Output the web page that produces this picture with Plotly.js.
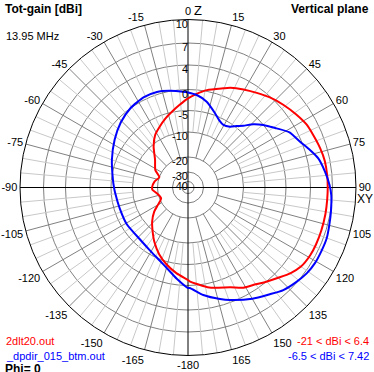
<!DOCTYPE html>
<html>
<head>
<meta charset="utf-8">
<script src="https://cdn.plot.ly/plotly-3.0.1.min.js"></script>
<style>html,body{margin:0;padding:0;background:#fff;}#chart{width:374px;height:372px;}</style>
</head>
<body>
<div id="chart"></div>
<script>
// ---- data (zenith angle in degrees, gain in dBi) ----
const redName = "2dlt20.out";
const blueName = "_dpdir_015_btm.out";
const redRange = "-21 < dBi < 6.4";
const blueRange = "-6.5 < dBi < 7.42";

const redTheta = [-180,-172.5,-164.5,-156.6,-148,-142.4,-133.6,-125.5,-120,-112,-101,-94,-90,-80,-70,-62,-50,-40,-32,-25,-18,-12,-6,0,5,11,19.6,23,29.5,36,42,49,56,62,67,73.5,79,85,90,95,101,108,114,119,125,130,135,141,145,151,157,168,179];
const redDb    = [-1.3,-2.7,-4.3,-6.0,-8.1,-9.5,-12.4,-15.6,-18.3,-21,-19.6,-18.0,-17.8,-18.6,-20.0,-17.4,-15.0,-10.8,-8.5,-7.3,-6.0,-4.9,-3.6,-2.1,-1.0,0.2,1.2,1.7,2.4,3.1,3.85,4.5,5.1,5.6,5.8,6.1,6.3,6.35,6.35,6.35,6.38,6.4,6.4,6.35,6.1,5.5,4.7,3.9,3.3,2.7,1.7,0.7,-1.0];

const blueTheta = [-180,-173,-166,-159,-150,-137.6,-121,-107,-94,-90,-84,-70,-57,-46,-36,-26,-18,-11,-3,0,5.4,12.3,20,25,29.5,34.6,38.4,41.8,45.9,50.3,53.4,56.3,61.5,67.8,72.9,77.4,83.4,89,93,99.6,104.9,110.1,115.6,120.8,125.9,131,137.1,142.5,150,159.5,164,171.9,179];
const blueDb    = [0.41,-1.43,-3.33,-4.64,-5.7,-6.45,-6.3,-6.3,-5.9,-5.7,-5.35,-4.05,-2.5,-1.07,0,0.41,0.41,0.08,-0.48,-0.71,-1.21,-2.43,-4.52,-5.7,-6.2,-5.72,-4.67,-3.6,-1.69,-0.02,0.67,1.4,2.86,3.76,4.7,5.5,6.1,6.6,6.86,7.06,7.22,7.41,7.42,7.42,7.26,6.9,6.39,5.64,4.82,3.61,2.94,1.73,0.41];

// gain rings (dBi) and their labels
const ringDb = [10, 7, 4, 0, -5, -10, -20, -30, -40];
const ringLabels = ["10", "7", "4", "0", "-5", "-10", "-20", "-30", "-40"];
// angular tick labels
const angleTicks = [0,15,30,45,60,75,90,105,120,135,150,165,180,195,210,225,240,255,270,285,300,315,330,345];
const angleLabels = ["0","15","30","45","60","75","90","105","120","135","150","165","-180","-165","-150","-135","-120","-105","-90","-75","-60","-45","-30","-15"];

// ---- log-type radial scale (EZNEC style): dBi -> fraction of outer radius ----
const scaleR = [1, 0.8601, 0.7292, 0.5833, 0.4583, 0.3304, 0.1815, 0.0923, 0.0357];
function dbToR(db) {
  if (db >= ringDb[0]) return 1;
  for (let i = 0; i < ringDb.length - 1; i++) {
    const a = ringDb[i], b = ringDb[i + 1];
    if (db <= a && db >= b) {
      return scaleR[i] + (scaleR[i + 1] - scaleR[i]) * (a - db) / (a - b);
    }
  }
  return Math.max(0, scaleR[scaleR.length - 1] * (1 - (ringDb[ringDb.length - 1] - db) / 10));
}
const th = t => (t + 360) % 360;

// ---- grid spokes ----
function spokes(step, skip, rIn) {
  const r = [], t = [];
  for (let a = 0; a < 360; a += step) {
    if (skip(a)) continue;
    r.push(rIn, 1, null); t.push(a, a, null);
  }
  return {r, t};
}
const light = spokes(5, a => a % 15 === 0, dbToR(-10));
const dark = spokes(15, a => a % 90 === 0, dbToR(-20));

const F = "Liberation Sans, Arial, sans-serif";

const traces = [
  {type: "scatterpolar", mode: "lines", r: light.r, theta: light.t, connectgaps: false,
   line: {color: "#c8c8c8", width: 1}, hoverinfo: "skip", showlegend: false},
  {type: "scatterpolar", mode: "lines", r: dark.r, theta: dark.t, connectgaps: false,
   line: {color: "#808080", width: 1}, hoverinfo: "skip", showlegend: false},
  {type: "scatterpolar", mode: "lines", r: [1, 0, 1, null, 1, 0, 1], theta: [0, 0, 180, null, 90, 90, 270], connectgaps: false,
   line: {color: "#000000", width: 1}, hoverinfo: "skip", showlegend: false},
  {type: "scatterpolar", mode: "lines", name: redName,
   r: redDb.map(dbToR).concat([dbToR(redDb[0])]), theta: redTheta.map(th).concat([th(redTheta[0])]),
   line: {color: "#ff0000", width: 2, shape: "spline", smoothing: 0.6}, showlegend: false},
  {type: "scatterpolar", mode: "lines", name: blueName,
   r: blueDb.map(dbToR).concat([dbToR(blueDb[0])]), theta: blueTheta.map(th).concat([th(blueTheta[0])]),
   line: {color: "#0000ff", width: 2, shape: "spline", smoothing: 0.6}, showlegend: false},
  // ring labels along the zenith axis
  {type: "scatterpolar", mode: "text", r: ringDb.map(dbToR), theta: ringDb.map(() => 0),
   text: ringLabels, textposition: "bottom left", textfont: {family: F, size: 11, color: "#000000"},
   hoverinfo: "skip", showlegend: false, cliponaxis: false}
];

const W = 374, H = 372;
const cx = 188, cy = 187.5, R = 168;

const layout = {
  width: W, height: H,
  margin: {l: 0, r: 0, t: 0, b: 0},
  paper_bgcolor: "#ffffff",
  showlegend: false,
  font: {family: F, size: 11, color: "#000000"},
  polar: {
    domain: {x: [(cx - R) / W, (cx + R) / W], y: [(H - cy - R) / H, (H - cy + R) / H]},
    bgcolor: "#ffffff",
    angularaxis: {
      rotation: 90, direction: "clockwise",
      tickmode: "array", tickvals: angleTicks, ticktext: angleLabels,
      showgrid: false, showline: true, linecolor: "#000000", linewidth: 1,
      ticks: "", tickfont: {family: F, size: 11, color: "#000000"}
    },
    radialaxis: {
      range: [0, 1], angle: 90,
      tickmode: "array", tickvals: ringDb.map(dbToR),
      showgrid: true, gridcolor: "#808080", gridwidth: 1,
      showline: false, ticks: "", showticklabels: false
    }
  },
  annotations: [
    {text: "<b>Tot-gain [dBi]</b>", x: 3 / 374, y: 1 - 9.5 / 372, xanchor: "left", yanchor: "middle", font: {family: F, size: 12}},
    {text: "13.95 MHz", x: 4 / 374, y: 1 - 36 / 372, xanchor: "left", yanchor: "middle", font: {family: F, size: 11}},
    {text: "<b>Vertical plane</b>", x: 371 / 374, y: 1 - 9.5 / 372, xanchor: "right", yanchor: "middle", font: {family: F, size: 12}},
    {text: "Z", x: 192 / 374, y: 1 - 11 / 372, xanchor: "left", yanchor: "middle", font: {family: F, size: 13}},
    {text: "XY", x: 355 / 374, y: 1 - 198.5 / 372, xanchor: "left", yanchor: "middle", font: {family: F, size: 12}},
    {text: redName, x: 4 / 374, y: 1 - 341 / 372, xanchor: "left", yanchor: "middle", font: {family: F, size: 11, color: "#ff0000"}},
    {text: blueName, x: 4 / 374, y: 1 - 356 / 372, xanchor: "left", yanchor: "middle", font: {family: F, size: 11, color: "#0000ff"}},
    {text: "<b>Phi= 0</b>", x: 3 / 374, y: 1 - 369 / 372, xanchor: "left", yanchor: "middle", font: {family: F, size: 12}},
    {text: redRange, x: 371 / 374, y: 1 - 341 / 372, xanchor: "right", yanchor: "middle", font: {family: F, size: 11, color: "#ff0000"}},
    {text: blueRange, x: 371 / 374, y: 1 - 356 / 372, xanchor: "right", yanchor: "middle", font: {family: F, size: 11, color: "#0000ff"}}
  ].map(a => Object.assign({xref: "paper", yref: "paper", showarrow: false}, a))
};

Plotly.newPlot("chart", traces, layout, {displayModeBar: false, staticPlot: true});
</script>
</body>
</html>
